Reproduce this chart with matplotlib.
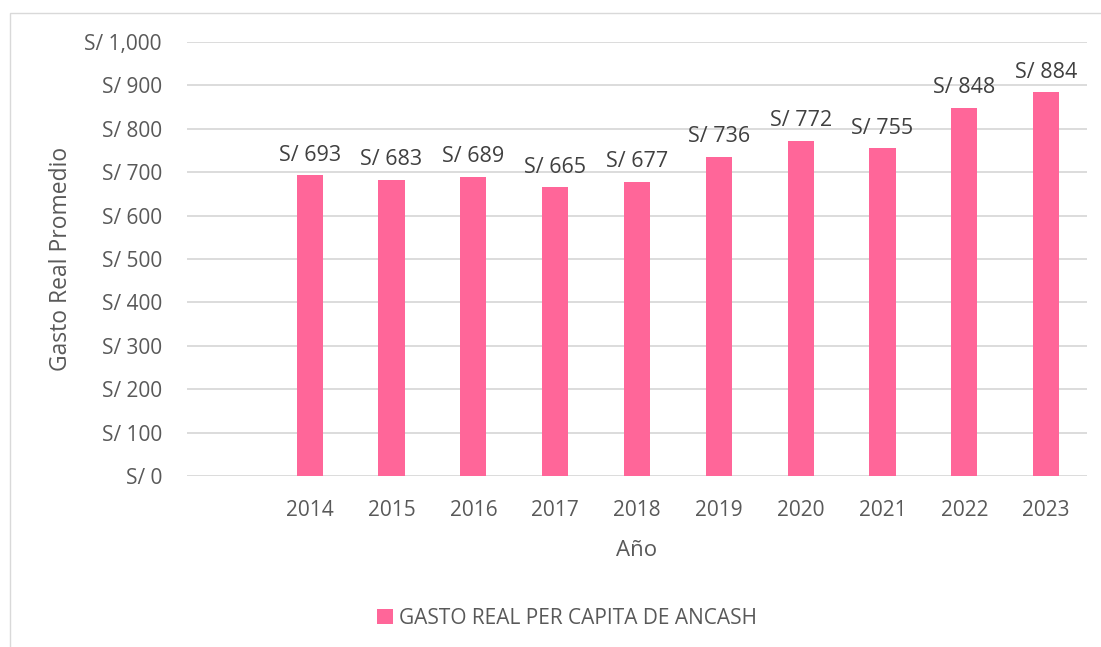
import matplotlib.pyplot as plt
from matplotlib.patches import Rectangle

plt.rcParams['font.family'] = ['Open Sans', 'DejaVu Sans']

# first slot of the category axis is empty in the original chart
years = ['', '2014', '2015', '2016', '2017', '2018', '2019', '2020', '2021', '2022', '2023']
gasto = [None, 693, 683, 689, 665, 677, 736, 772, 755, 848, 884]

text_color = '#595959'
bar_color = '#FF6699'
grid_color = '#D9D9D9'

W, H = 1101, 647
fig = plt.figure(figsize=(W / 100, H / 100), dpi=100)
fig.patches.append(Rectangle((10 / W, -0.2), 1.2, 1.2 - 13 / H, transform=fig.transFigure,
                             fill=False, edgecolor=grid_color, linewidth=1))

ax = fig.add_axes([187 / W, 1 - 476 / H, 900 / W, 434 / H])

xs = [i for i, v in enumerate(gasto) if v is not None]
vals = [v for v in gasto if v is not None]
bars = ax.bar(xs, vals, width=0.32, color=bar_color, zorder=3,
              label='GASTO REAL PER CAPITA DE ANCASH')
for b, v in zip(bars, vals):
    ax.annotate('S/ {:,}'.format(v), (b.get_x() + b.get_width() / 2, v),
                xytext=(0, 7), textcoords='offset points', ha='center', va='bottom',
                fontsize=15.5, color='#404040')

ax.set_xlim(-0.5, len(years) - 0.5)
ax.set_ylim(0, 1000)
ax.set_xticks(range(len(years)))
ax.set_xticklabels(years)
ax.set_yticks(range(0, 1001, 100))
ax.set_yticklabels(['S/ {:,}'.format(t) for t in range(0, 1001, 100)])
ax.tick_params(length=0, labelsize=15, colors=text_color)
ax.tick_params(axis='x', pad=17)
ax.tick_params(axis='y', pad=18)
ax.grid(axis='y', color=grid_color, linewidth=1.3, zorder=0)
for s in ax.spines.values():
    s.set_visible(False)

ax.set_xlabel('Año', fontsize=16, color=text_color, labelpad=14)
ax.set_ylabel('Gasto Real Promedio', fontsize=16.5, color=text_color, labelpad=8)

ax.legend(loc='center', bbox_to_anchor=(0.515, 1 - 618 / H), bbox_transform=fig.transFigure,
          frameon=False, fontsize=15, labelcolor=text_color, handlelength=0.75,
          handleheight=0.75, handletextpad=0.3)

fig.savefig('out.png', dpi=100)
